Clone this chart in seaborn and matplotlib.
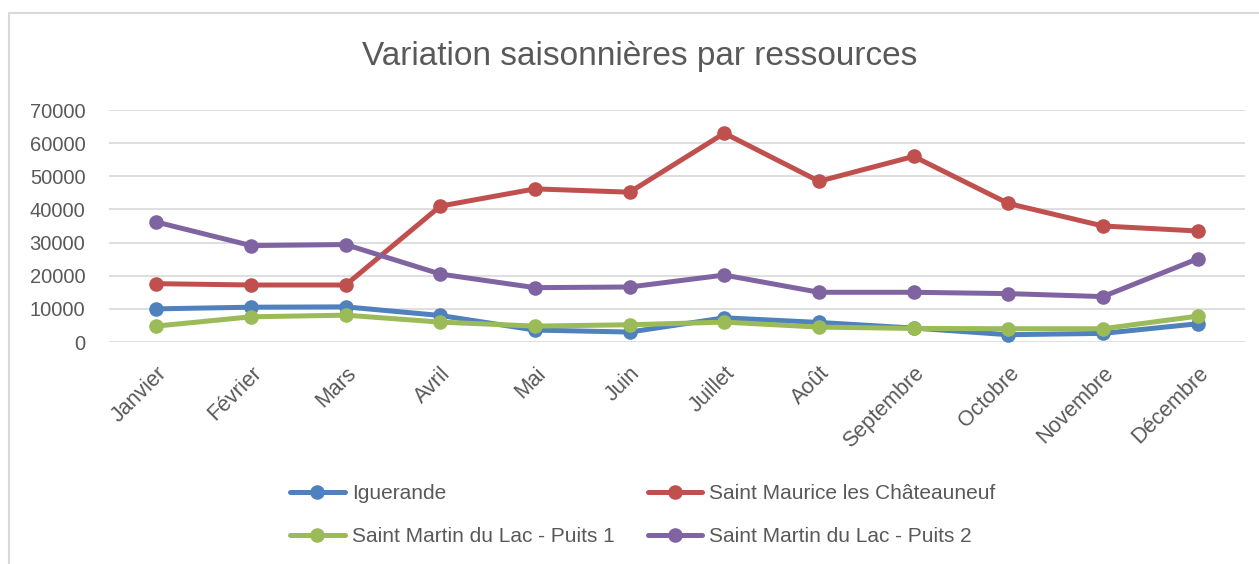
import matplotlib
matplotlib.use("Agg")
import matplotlib.pyplot as plt
import seaborn as sns
import pandas as pd

months = ['Janvier', 'Février', 'Mars', 'Avril', 'Mai', 'Juin', 'Juillet',
          'Août', 'Septembre', 'Octobre', 'Novembre', 'Décembre']
series_names = ['Iguerande', 'Saint Maurice les Châteauneuf',
                'Saint Martin du Lac - Puits 1', 'Saint Martin du Lac - Puits 2']
iguerande = [10000, 10500, 10600, 8000, 3600, 3000, 7300, 5900, 4200, 2200, 2600, 5500]
saint_maurice = [17600, 17200, 17200, 41000, 46200, 45200, 63000, 48500, 56000, 41800, 35000, 33500]
puits1 = [4800, 7600, 8100, 6000, 4800, 5200, 6000, 4500, 4100, 4000, 4000, 7800]
puits2 = [36200, 29100, 29400, 20500, 16400, 16600, 20200, 15000, 15000, 14600, 13700, 25100]
colors = ['#4F81BD', '#C0504D', '#9BBB59', '#8064A2']
yticks = [0, 10000, 20000, 30000, 40000, 50000, 60000, 70000]

df = pd.DataFrame({
    'mois': months * 4,
    'serie': sum([[n] * 12 for n in series_names], []),
    'valeur': iguerande + saint_maurice + puits1 + puits2,
})
df['mois'] = pd.Categorical(df['mois'], categories=months, ordered=True)
df['x'] = df['mois'].cat.codes

sns.set_style('white')
plt.rcParams['font.family'] = ['Liberation Sans', 'DejaVu Sans']
txt = '#595959'

fig = plt.figure(figsize=(12.59, 5.64), dpi=100)
ax = fig.add_axes([109 / 1259, 1 - 342 / 564, (1245 - 109) / 1259, (342 - 110) / 564])

for name, col in zip(series_names, colors):
    sub = df[df['serie'] == name]
    sns.lineplot(data=sub, x='x', y='valeur', ax=ax, color=col, linewidth=3.6,
                 marker='o', markersize=10.5, markeredgewidth=0, label=name,
                 legend=False)

ax.set_xlim(-0.5, len(months) - 0.5)
ax.set_ylim(0, 70000)
ax.set_yticks(yticks)
ax.set_yticklabels([str(v) for v in yticks], color=txt, fontsize=14.5)
ax.set_xticks(range(len(months)))
ax.set_xticklabels(months, rotation=45, ha='right', va='top',
                   rotation_mode='anchor', color=txt, fontsize=15.5)
ax.tick_params(axis='y', length=0, pad=17)
ax.tick_params(axis='x', length=0, pad=15)
ax.set_xlabel('')
ax.set_ylabel('')
ax.grid(axis='y', color='#d9d9d9', linewidth=1.2)
ax.set_axisbelow(True)
for s in ax.spines.values():
    s.set_visible(False)

fig.text(640 / 1259, 1 - 57 / 564, 'Variation saisonnières par ressources',
         ha='center', va='center', fontsize=24, color=txt)

h, l = ax.get_legend_handles_labels()
order = [0, 2, 1, 3]
fig.legend([h[i] for i in order], [l[i] for i in order], ncol=2,
           loc='center', bbox_to_anchor=(643 / 1259, 1 - 515 / 564),
           frameon=False, fontsize=15, labelcolor=txt, handlelength=2.6,
           handletextpad=0.35, columnspacing=1.6, labelspacing=1.15)

# chart area border (left and top edges visible)
fig.add_artist(plt.Line2D([9 / 1259, 9 / 1259], [0, 1 - 13 / 564],
                          transform=fig.transFigure, color='#d9d9d9', linewidth=1.5))
fig.add_artist(plt.Line2D([9 / 1259, 1], [1 - 13 / 564, 1 - 13 / 564],
                          transform=fig.transFigure, color='#d9d9d9', linewidth=1.5))

fig.savefig('out.png', dpi=100, facecolor='white')
